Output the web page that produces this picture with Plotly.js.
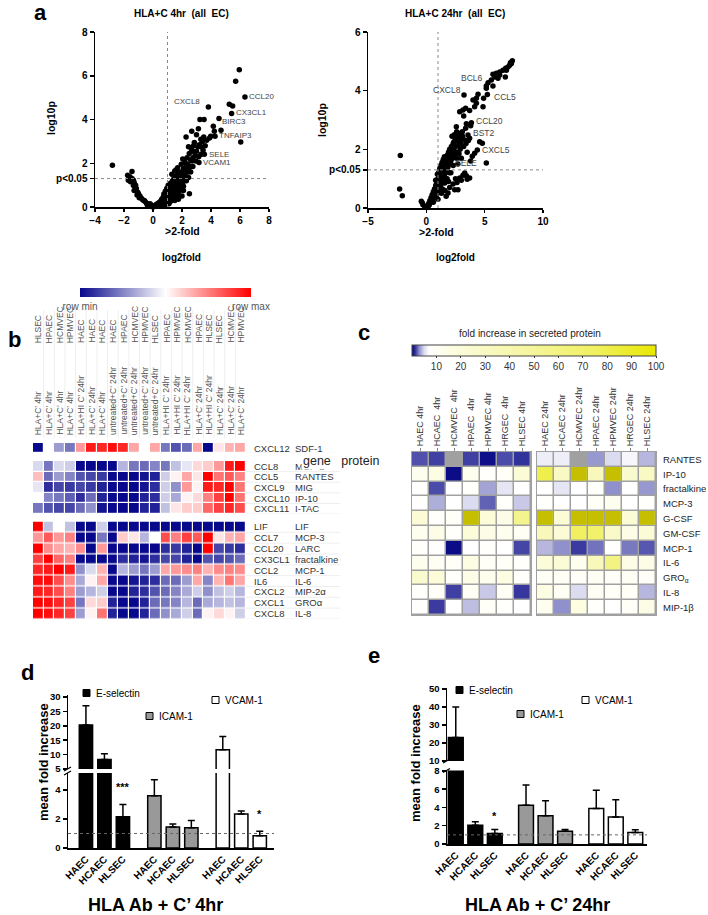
<!DOCTYPE html>
<html><head><meta charset="utf-8">
<script src="https://cdn.plot.ly/plotly-3.0.1.min.js"></script>
<style>html,body{margin:0;padding:0;background:#fff;}#chart{width:708px;height:915px;}</style>
</head><body><div id="chart"></div>
<script>
// ================= DATA =================
// Panel a: volcano plots [log2fold, log10p]
const volcano4h = [
 [5.95,6.28],[5.70,5.75],[6.34,5.03],[5.26,4.70],[5.49,4.62],[5.42,4.27],[3.82,4.57],[4.55,4.05],[3.24,4.0],[3.52,4.0],
 [4.16,3.69],[4.69,3.51],[4.23,3.46],[3.98,3.23],[4.28,3.23],[6.05,2.97],[3.13,3.58],[2.67,3.46],[2.28,3.2],[3.0,3.3],
 [3.3,3.1],[3.4,3.0],[3.5,3.2],[3.3,2.75],[3.1,2.75],[2.8,2.8],[2.75,2.55],[2.9,2.35],[2.75,2.25],[3.3,2.4],
 [3.54,2.41],[3.17,2.03],[2.6,2.15],[2.4,1.95],[2.1,1.75],[1.95,1.95],[2.5,1.8],[2.3,1.6],[2.2,1.45],[2.05,1.3],
 [2.4,1.6],[2.55,1.85],[2.7,2.1],[2.35,2.25],[2.5,2.45],[2.65,2.65],[2.45,2.75],[2.85,2.95],[3.0,2.55],[3.2,2.85],
 [3.45,2.6],[3.6,2.8],[3.7,3.05],[3.9,3.15],[3.15,2.3],[2.95,2.1],[2.75,1.85],[2.6,1.6],[2.2,2.05],[2.05,2.2],
 [2.51,0.61],[2.1,0.95],[2.3,1.2],[2.45,1.35],
 [0.05,0.02],[0.1,0.05],[0.15,0.03],[0.2,0.1],[0.25,0.06],[0.3,0.15],[0.35,0.1],[0.4,0.2],[0.45,0.12],[0.5,0.25],
 [0.55,0.18],[0.6,0.35],[0.62,0.22],[0.68,0.3],[0.7,0.45],[0.75,0.38],[0.8,0.55],[0.82,0.28],[0.88,0.48],[0.9,0.65],
 [0.95,0.4],[1.0,0.8],[1.02,0.55],[1.05,0.3],[1.1,0.7],[1.12,0.95],[1.15,0.45],[1.2,0.85],[1.22,1.1],[1.25,0.6],
 [1.3,0.95],[1.32,0.35],[1.35,1.2],[1.38,0.75],[1.4,1.05],[1.42,0.5],[1.45,1.3],[1.48,0.9],[1.5,1.15],[1.52,0.65],
 [1.55,1.4],[1.58,1.0],[1.6,0.4],[1.62,1.25],[1.65,0.8],[1.68,1.5],[1.7,1.1],[1.72,0.6],[1.75,1.35],[1.78,0.95],
 [1.8,1.55],[1.82,1.2],[1.85,0.75],[1.88,1.4],[1.9,1.0],[1.92,1.6],[1.95,1.25],[1.98,0.85],[2.0,1.45],[2.05,1.1],
 [2.1,1.6],[1.3,1.5],[1.5,1.65],[1.7,1.8],[1.6,1.7],[2.2,1.75],[2.3,1.95],[2.15,1.35],[1.05,1.0],[0.95,0.85],
 [0.85,0.72],[0.75,0.6],[1.2,0.25],[1.5,0.3],[1.75,0.35],[2.0,0.5],[1.85,0.5],[2.1,0.75],[1.1,0.15],[0.9,0.12],[0.7,0.08],
 [-2.80,1.91],[-1.75,1.45],[-1.65,1.3],[-1.6,1.38],[-1.45,1.62],[-1.45,1.3],[-1.35,1.22],[-1.3,1.12],[-1.55,1.15],[-1.7,1.22],
 [-1.2,1.0],[-1.35,0.98],[-1.15,0.85],[-1.3,0.75],[-1.0,0.6],[-0.9,0.5],[-0.8,0.4],[-0.7,0.32],[-0.55,0.25],[-0.45,0.18],
 [-0.35,0.12],[-0.25,0.08],[-0.15,0.05],[-0.05,0.02],[-0.6,0.3],[-1.05,0.68],[-1.1,0.55],[-0.95,0.42],[-0.4,0.1],[-0.2,0.15],
 [-0.1,0.08],[0.0,0.0]
];
const volcano24h = [
 [7.37,5.02],[7.29,4.93],[7.14,4.87],[7.0,4.81],[6.8,4.76],[6.57,4.70],[6.29,4.64],[6.0,4.59],[5.71,4.56],[5.86,4.47],
 [6.14,4.42],[5.57,4.36],[5.29,4.27],[5.14,4.16],[5.71,4.16],[6.77,4.47],[6.29,4.53],[6.86,4.70],[5.14,4.08],[7.2,4.95],
 [5.23,3.87],[4.91,3.74],[4.43,3.88],[4.29,3.74],[4.0,3.68],[4.14,3.45],[4.86,3.45],[4.29,3.57],[3.23,3.85],
 [3.37,3.40],[3.14,3.34],[3.71,3.32],[2.86,3.28],[3.2,3.14],[3.86,2.91],[3.8,2.8],[3.43,2.87],[3.37,2.72],[2.57,2.77],
 [3.09,2.6],[3.57,2.49],[3.0,2.38],[2.71,2.41],[2.37,2.26],[2.86,2.32],[3.29,2.32],[3.71,2.38],[4.57,2.26],[4.8,2.21],
 [4.37,1.98],[4.14,1.87],[3.94,1.76],[5.14,1.53],
 [2.4,2.5],[2.6,2.6],[2.7,2.45],[2.9,2.55],[3.1,2.45],[3.4,2.2],[3.6,2.3],[3.2,2.1],[2.95,2.2],[3.5,1.9],[3.8,1.6],
 [3.29,1.19],[3.43,1.10],[3.14,1.12],[3.71,1.02],[2.86,1.02],[2.63,0.87],[2.29,0.82],[2.43,0.62],[2.71,0.62],[1.86,0.51],
 [3.0,0.95],[3.5,0.98],[2.5,1.0],
 [0.05,0.02],[0.1,0.08],[0.15,0.04],[0.2,0.15],[0.25,0.1],[0.3,0.25],[0.35,0.18],[0.4,0.35],[0.45,0.28],[0.5,0.45],
 [0.55,0.35],[0.6,0.55],[0.65,0.42],[0.7,0.65],[0.72,0.5],[0.75,0.35],[0.8,0.75],[0.85,0.6],[0.88,0.45],[0.9,0.88],
 [0.95,0.7],[1.0,1.0],[1.02,0.8],[1.05,0.55],[1.1,1.1],[1.12,0.9],[1.15,0.7],[1.2,1.2],[1.22,1.0],[1.25,0.8],
 [1.3,1.3],[1.32,1.1],[1.35,0.9],[1.38,0.65],[1.4,1.4],[1.42,1.2],[1.45,1.0],[1.5,1.5],[1.52,1.3],[1.55,1.1],
 [1.58,0.85],[1.6,1.6],[1.62,1.4],[1.65,1.2],[1.7,1.7],[1.72,1.5],[1.75,1.3],[1.78,1.0],[1.8,1.8],[1.82,1.6],
 [1.85,1.4],[1.9,1.9],[1.92,1.7],[1.95,1.5],[1.98,1.2],[2.0,2.0],[2.05,1.8],[2.1,1.6],[2.15,2.1],[2.2,1.9],
 [2.25,1.7],[2.3,2.2],[2.35,2.0],[2.4,1.8],[2.5,2.1],[2.55,1.9],[2.6,1.7],[2.2,2.45],[2.45,2.4],[1.55,1.75],
 [1.35,1.55],[1.15,1.35],[0.95,1.15],[0.8,0.95],[1.6,0.6],[1.3,0.5],[1.0,0.3],[0.6,0.2],[1.7,0.4],[1.9,0.9],
 [2.0,0.7],[2.1,1.2],[2.3,1.45],[2.7,1.5],[2.8,1.85],[2.9,2.0],[3.0,1.7],[2.65,2.3],[2.75,2.15],[1.45,1.65],
 [1.25,1.45],[1.05,1.2],[0.85,0.8],
 [-0.43,0.23],[-0.29,0.11],[-0.14,0.06],[-0.35,0.18],[-2.23,1.79],[-2.29,0.65],[-2.06,0.42]
];
const genes4h = ['CCL20','CX3CL1','BIRC3','TNFAIP3','SELE','VCAM1','CXCL8'];
const genes4hAt = [[6.45,5.03],[5.6,4.3],[4.65,3.92],[4.4,3.25],[3.7,2.42],[3.3,2.03],[3.4,4.8]];
const genes24h = ['BCL6','CXCL8','CCL5','CCL20','BST2','CXCL5','SELE'];
const genes24hAt = [[5.0,4.42],[3.1,4.02],[5.6,3.8],[4.05,2.98],[3.8,2.55],[4.6,1.98],[4.5,1.55]];

// Panel b: row-normalised heatmap
const bCells = ['HLSEC','HPAEC','HCMVEC','HPMVEC','HAEC','HAEC','HAEC','HAEC','HPAEC','HCMVEC','HPMVEC','HLSEC','HPAEC','HPMVEC','HCMVEC','HPAEC','HLSEC','HLSEC','HCMVEC','HPMVEC'];
const bConds = ["HLA+C’ 4hr","HLA+C’ 4hr","HLA+C’ 4hr","HLA+C’ 4hr","HLA+HI C’ 24hr","HLA+C’ 24hr","HLA+C’ 4hr","untreated+C’ 24hr","untreated+C’ 24hr","untreated+C’ 24hr","untreated+C’ 24hr","untreated+C’ 24hr","HLA+HI C’ 24hr","HLA+HI C’ 24hr","HLA+HI C’ 24hr","HLA+C’ 24hr","HLA+HI C’ 24hr","HLA+C’ 24hr","HLA+C’ 24hr","HLA+C’ 24hr"];
const bGenes1 = ['CXCL12'];
const bProteins1 = ['SDF-1'];
const bValues1 = [
 [-1,0,-0.4,-0.55,0.4,0.9,0.85,0.95,0.85,0.35,0,0.35,-0.55,-0.7,-0.6,0.35,-1,0.1,0.3,0.35]
];
const bGenes2 = ['CCL8','CCL5','CXCL9','CXCL10','CXCL11'];
const bProteins2 = ['MCP-2','RANTES','MIG','IP-10','I-TAC'];
const bValues2 = [
 [-0.15,-0.55,-0.15,-0.2,-1,-1,-1,-1,-0.3,-0.55,-0.6,-0.5,-0.55,-0.25,-0.1,0.15,0.2,0.4,0.9,1.0],
 [0.25,-0.6,-0.4,-0.5,-0.7,-0.75,-0.8,-1,-1,-1,-0.95,-0.9,-0.2,0.05,0.35,0.1,1.0,0.55,0.65,0.5],
 [-0.1,-0.85,-0.75,-0.8,-0.75,-0.8,-0.9,-1,-1,-1,-0.95,-0.85,-0.2,-0.45,0.4,0.05,0.9,0.85,1.0,0.55],
 [0,-0.5,-0.55,-0.65,-0.85,-0.6,-0.9,-1,-1,-1,-0.9,-0.85,-0.2,-0.35,0.05,0.15,0.5,0.75,1.0,0.55],
 [-0.55,-0.7,-0.75,-0.75,-0.6,-0.45,-0.95,-1,-1,-1,-0.9,-0.9,-0.25,0.1,0.2,0.2,0.6,0.75,0.85,0.7]
];
const bGenes3 = ['LIF','CCL7','CCL20','CX3CL1','CCL2','IL6','CXCL2','CXCL1','CXCL8'];
const bProteins3 = ['LIF','MCP-3','LARC','fractalkine','MCP-1','IL-6','MIP-2α','GROα','IL-8'];
const bValues3 = [
 [1.0,-0.25,0,-0.25,-1,-1,-0.2,-1,-1,-1,-1,-1,-1,-1,-1,-1,-1,-1,-1,-1],
 [0.4,0.65,0.4,0.5,-1,-1,-0.55,-1,0.2,0.1,-0.3,0,0.7,0.5,0.75,0.65,1.0,0.1,0.3,0.35],
 [1.0,0.45,0.35,0.3,0.45,-1,0.4,-1,-1,-1,-1,-1,-0.85,-0.8,-0.9,-1,1.0,-0.75,-0.8,-0.85],
 [0.75,1.0,0.6,0.5,-1,-1,-1,-1,-0.85,-0.9,-0.95,-0.85,-0.75,-0.75,-0.9,-1,-0.7,-0.75,-0.7,-0.6],
 [0.85,0.9,1.0,0.9,-0.45,-0.15,0.3,-1,-0.3,-0.4,-0.55,-0.4,0.35,0.4,0.45,0.5,0.3,0.45,0.5,0.45],
 [0.95,0.95,0.7,0.45,-0.35,0.05,0.35,-1,-1,-0.95,-0.9,-0.85,-0.6,-0.6,-0.4,0.35,-0.5,0.3,0.55,0.35],
 [0.9,0.85,0.7,0.5,-0.4,-0.3,-0.2,-1,-1,-0.9,-0.85,-0.7,-0.6,-0.5,-0.35,-0.2,-0.45,-0.25,-0.2,-0.3],
 [1.0,0.95,0.85,0.75,-0.55,0.15,0.2,-0.9,-1,-1,-0.9,-0.6,-0.55,-0.5,-0.3,-0.6,-0.35,-0.3,-0.25,-0.3],
 [1.0,0.95,0.85,0.75,-0.4,0.05,0.55,-0.9,-1,-1,-0.9,-0.6,-0.45,-0.35,-0.2,-0.6,0.05,0.15,0.05,-0.2]
];

// Panel c: fold increase in secreted protein (null = not measured)
const cProteins = ['RANTES','IP-10','fractalkine','MCP-3','G-CSF','GM-CSF','MCP-1','IL-6','GRO<sub>α</sub>','IL-8','MIP-1β'];
const cCols4h = ['HAEC 4hr','HCAEC  4hr','HCMVEC  4hr','HPAEC  4hr','HPMVEC 4hr','HRGEC  4hr','HLSEC 4hr'];
const cCols24h = ['HAEC 24hr','HCAEC 24hr','HCMVEC 24hr','HPAEC 24hr','HPMVEC 24hr','HRGEC 24hr','HLSEC 24hr'];
const c4h = [
 [1.9,1.6,null,1.6,0.4,1.8,1.3],
 [12,15,0.3,12,8,9,22],
 [7,1.8,7,8,3.5,5.5,7],
 [7,3.8,7,5,2.2,8,4.5],
 [22,8,9,120,20,14,55],
 [12,14,8,20,14,12,10],
 [8,7,0.3,7,8,7,1.7],
 [12,10,9,15,9,9,8],
 [25,20,8,14,12,16,8],
 [8,9,1.6,10,4.5,10,1.4],
 [7,1.5,7,4.2,9,8,7]
];
const c24h = [
 [6,6,null,3.2,5,6.5,4],
 [80,30,120,35,120,25,30],
 [7,5.5,7,8,3,7,3.2],
 [8,7,7,9,12,7,8],
 [120,22,120,120,120,22,120],
 [35,22,75,70,28,14,22],
 [4,3,1.5,2.5,7,2.6,2.0],
 [20,22,12,35,60,14,14],
 [10,10,9,10,9,10,9],
 [15,10,5,10,9,9,4],
 [12,3,16,8,7,9,14]
];
const cTicks = [10,20,30,40,50,60,70,80,90,100];

// Panels d, e: mean fold increase (+ SEM)
const markers = ['E-selectin','ICAM-1','VCAM-1'];
const cellsDE = ['HAEC','HCAEC','HLSEC'];
const d4hMean = [[20.3,8.3,2.15],[3.6,1.45,1.4],[11.7,2.35,0.85]];
const d4hSem  = [[6.7,2.0,0.85],[1.1,0.2,0.5],[4.6,0.2,0.3]];
const e24hMean = [[23,2.05,1.15],[4.25,3.1,1.4],[3.9,2.95,1.25]];
const e24hSem  = [[17,0.4,0.45],[2.2,1.65,0.2],[2.0,1.9,0.3]];
const d4hStars = [['','','***'],['','',''],['','','*']];
const e24hStars = [['','','*'],['','',''],['','','']];

// ================= LAYOUT HELPERS =================
const W=708,H=915;
const fx=p=>p/W, fy=p=>1-p/H;
const dX=(a,b)=>[a/W,b/W], dY=(t,b)=>[1-b/H,1-t/H];
const FONT='Liberation Sans, Arial, Helvetica, sans-serif';
const annotations=[], shapes=[], traces=[];
function txt(text,px,py,o){o=o||{};annotations.push(Object.assign({text:text,xref:'paper',yref:'paper',x:fx(px),y:fy(py),showarrow:false,xanchor:'center',yanchor:'middle',font:{family:FONT,size:10,color:'#000'}},o));}
const layout={width:W,height:H,margin:{l:0,r:0,t:0,b:0},paper_bgcolor:'#fff',plot_bgcolor:'rgba(0,0,0,0)',showlegend:false,barmode:'overlay',font:{family:FONT,color:'#000'}};

const axBase={showline:true,linecolor:'#000',linewidth:1.5,ticks:'outside',ticklen:4,tickwidth:1.5,tickcolor:'#000',showgrid:false,zeroline:false,tickfont:{family:FONT,size:10,weight:'bold',color:'#000'}};

// ---------- Panel a ----------
traces.push({type:'scatter',mode:'markers',x:volcano4h.map(p=>p[0]),y:volcano4h.map(p=>p[1]),xaxis:'x',yaxis:'y',marker:{size:5.5,color:'#000'},cliponaxis:false,hoverinfo:'skip'});
traces.push({type:'scatter',mode:'markers',x:volcano24h.map(p=>p[0]),y:volcano24h.map(p=>p[1]),xaxis:'x2',yaxis:'y2',marker:{size:5.5,color:'#000'},cliponaxis:false,hoverinfo:'skip'});
layout.xaxis=Object.assign({},axBase,{domain:dX(95,269),range:[-4,8],tickvals:[-4,-2,0,2,4,6,8],anchor:'y',ticklen:3});
layout.yaxis=Object.assign({},axBase,{domain:dY(32,207),range:[0,8],tickvals:[0,1.3,2,4,6,8],ticktext:['0','p<0.05','2','4','6','8'],anchor:'x'});
layout.xaxis2=Object.assign({},axBase,{domain:dX(368,543),range:[-5,10],tickvals:[-5,0,5,10],anchor:'y2',ticklen:3});
layout.yaxis2=Object.assign({},axBase,{domain:dY(32,208),range:[0,6],tickvals:[0,1.3,2,4,6],ticktext:['0','p<0.05','2','4','6'],anchor:'x2'});
[['x','y',8,-4,8],['x2','y2',6,-5,10]].forEach(a=>{
  shapes.push({type:'line',xref:a[0],yref:a[1],x0:1,x1:1,y0:0,y1:a[2],line:{color:'#888',width:1,dash:'dot'}});
  shapes.push({type:'line',xref:a[0],yref:a[1],x0:a[3],x1:a[4],y0:1.3,y1:1.3,line:{color:'#888',width:1,dash:'dot'}});
});
genes4h.forEach((g,i)=>annotations.push({text:g,xref:'x',yref:'y',x:genes4hAt[i][0],y:genes4hAt[i][1],showarrow:false,xanchor:i===6?'right':'left',yanchor:'middle',font:{family:FONT,size:8,color:'#444'}}));
genes24h.forEach((g,i)=>annotations.push({text:g,xref:'x2',yref:'y2',x:genes24hAt[i][0],y:genes24hAt[i][1],showarrow:false,xanchor:(i===0||i===1||i===6)?'right':'left',yanchor:'middle',font:{family:FONT,size:8.5,color:'#444'}}));
txt('a',40,13,{font:{family:FONT,size:22,weight:'bold'}});
txt('HLA+C 4hr  (all  EC)',181,14,{font:{family:FONT,size:10,weight:'bold'}});
txt('HLA+C 24hr  (all  EC)',455,14,{font:{family:FONT,size:10,weight:'bold'}});
txt('&gt;2-fold',182,231,{font:{family:FONT,size:10.5,weight:'bold'}});
txt('&gt;2-fold',437,232,{font:{family:FONT,size:10.5,weight:'bold'}});
txt('log2fold',181,257,{font:{family:FONT,size:10,weight:'bold'}});
txt('log2fold',456,257,{font:{family:FONT,size:10,weight:'bold'}});
txt('log10p',51,118,{textangle:-90,font:{family:FONT,size:10.5,weight:'bold'}});
txt('log10p',322,120,{textangle:-90,font:{family:FONT,size:10.5,weight:'bold'}});

// ---------- Panel b ----------
const bScale=[[0,'#08088c'],[0.5,'#ffffff'],[1,'#ff0000']];
layout.coloraxis={colorscale:bScale,cmin:-1,cmax:1,colorbar:{orientation:'h',x:fx(165.5),xanchor:'center',y:fy(288),yanchor:'top',len:171,lenmode:'pixels',thickness:9,thicknessmode:'pixels',tickvals:[-1,1],ticktext:['row min','row max'],ticks:'',outlinewidth:0,tickfont:{family:FONT,size:10,color:'#555'},xpad:0,ypad:0}};
const bGroups=[[bValues1,bGenes1,bProteins1,443,453],[bValues2,bGenes2,bProteins2,461,514],[bValues3,bGenes3,bProteins3,521.5,619]];
bGroups.forEach((g,k)=>{
  const xa='x'+(3+k), ya='y'+(3+k);
  traces.push({type:'heatmap',z:g[0],x:bCells.map((c,i)=>i),y:g[1].map((r,i)=>i),xaxis:xa,yaxis:ya,coloraxis:'coloraxis',xgap:1.2,ygap:1.2,hoverinfo:'skip'});
  layout['xaxis'+(3+k)]={domain:dX(33,246),range:[-0.5,bCells.length-0.5],visible:false,anchor:ya};
  layout['yaxis'+(3+k)]={domain:dY(g[3],g[4]),range:[g[1].length-0.5,-0.5],visible:false,anchor:xa};
  g[1].forEach((r,i)=>{
    annotations.push({text:r,xref:'paper',yref:ya,x:fx(252),y:i,xanchor:'left',yanchor:'middle',showarrow:false,font:{family:FONT,size:9.5,color:'#333'}});
    annotations.push({text:g[2][i],xref:'paper',yref:ya,x:fx(293),y:i,xanchor:'left',yanchor:'middle',showarrow:false,font:{family:FONT,size:9.5,color:'#333'}});
    shapes.push({type:'line',xref:'paper',yref:ya,x0:fx(246),x1:fx(340),y0:i+0.5,y1:i+0.5,line:{color:'#eee',width:1}});
  });
});
bCells.forEach((c,i)=>{
  annotations.push({text:bConds[i],xref:'x3',yref:'paper',x:i,y:fy(437),xanchor:'center',yanchor:'bottom',textangle:-90,showarrow:false,font:{family:FONT,size:8.5,color:'#555'}});
  annotations.push({text:c,xref:'x3',yref:'paper',x:i,y:fy(345),xanchor:'center',yanchor:'bottom',textangle:-90,showarrow:false,font:{family:FONT,size:8.5,color:'#555'}});
  if(i>0) shapes.push({type:'line',xref:'x3',yref:'paper',x0:i-0.5,x1:i-0.5,y0:fy(438),y1:fy(310),line:{color:'#eee',width:1}});
});
annotations.push({text:'gene   protein',xref:'paper',yref:'paper',x:fx(301),y:fy(461),xanchor:'left',yanchor:'middle',showarrow:false,bgcolor:'#fff',font:{family:FONT,size:12.5,color:'#222'}});
txt('b',14,340,{font:{family:FONT,size:22,weight:'bold'}});

// ---------- Panel c ----------
const cScale=[[0,'#000080'],[0.015,'#3a3aa0'],[0.03,'#9090cc'],[0.05,'#dcdcf0'],[0.07,'#ffffff'],[0.15,'#fdfde4'],[0.3,'#f9f9c4'],[0.5,'#f5f59a'],[0.75,'#f0f060'],[1,'#e8e800']];
layout.coloraxis2={colorscale:cScale,cmin:0,cmax:100,colorbar:{orientation:'h',x:fx(534),xanchor:'center',y:fy(345),yanchor:'top',len:244,lenmode:'pixels',thickness:11,thicknessmode:'pixels',tickvals:cTicks,ticks:'outside',ticklen:2,tickcolor:'#333',outlinecolor:'#444',outlinewidth:1,tickfont:{family:FONT,size:10,color:'#333'},xpad:0,ypad:0}};
const cBlocks=[[c4h,cCols4h,412,531,6],[c24h,cCols24h,537,656,7]];
cBlocks.forEach(b=>{
  const xa='x'+b[4], ya='y'+b[4];
  shapes.push({type:'rect',xref:'paper',yref:'paper',x0:fx(b[2]-1),x1:fx(b[3]+1),y0:fy(616),y1:fy(451),fillcolor:'#a0a0a0',line:{width:0},layer:'below'});
  traces.push({type:'heatmap',z:b[0],x:b[1].map((c,i)=>i),y:cProteins.map((r,i)=>i),xaxis:xa,yaxis:ya,coloraxis:'coloraxis2',xgap:1.5,ygap:1.5,hoverinfo:'skip'});
  traces.push({type:'heatmap',z:b[0].map(r=>r.map(v=>(v!==null&&v>100)?1:null)),x:b[1].map((c,i)=>i),y:cProteins.map((r,i)=>i),xaxis:xa,yaxis:ya,colorscale:[[0,'#c6bf00'],[1,'#c6bf00']],showscale:false,xgap:1.5,ygap:1.5,hoverinfo:'skip'});
  layout['xaxis'+b[4]]={domain:dX(b[2],b[3]),range:[-0.5,6.5],side:'top',anchor:ya,tickvals:b[1].map((c,i)=>i),ticktext:b[1],tickangle:-90,ticks:'outside',ticklen:3,tickcolor:'#888',showline:false,showgrid:false,zeroline:false,tickfont:{family:FONT,size:9,color:'#333'}};
  layout['yaxis'+b[4]]={domain:dY(452,615),range:[10.5,-0.5],anchor:xa,showgrid:false,zeroline:false,showline:false,showticklabels:b[4]===7,side:'right',tickvals:cProteins.map((r,i)=>i),ticktext:cProteins,ticks:'',ticklabelstandoff:6,tickfont:{family:FONT,size:9.5,color:'#222'}};
});
txt('fold increase in secreted protein',530,333,{font:{family:FONT,size:10,color:'#222'}});
txt('c',364,332,{font:{family:FONT,size:22,weight:'bold'}});

// ---------- Panels d, e ----------
function barPanel(mean,sem,stars,cfg){
  const pos=(g,i)=>g*cfg.step+i;
  const xl='x'+cfg.n, yl='y'+cfg.n, xu='x'+(cfg.n+1), yu='y'+(cfg.n+1);
  const fills=['#000','#999','#fff'];
  markers.forEach((m,g)=>{
    [[xl,yl],[xu,yu]].forEach(ax=>{
      traces.push({type:'bar',x:cellsDE.map((c,i)=>pos(g,i)),y:mean[g],width:cfg.bw,xaxis:ax[0],yaxis:ax[1],marker:{color:fills[g],line:{color:'#000',width:1.5}},
        error_y:{type:'data',symmetric:false,array:sem[g],arrayminus:sem[g].map(()=>0),color:'#000',thickness:1.5,width:3.5},hoverinfo:'skip'});
    });
    stars[g].forEach((s,i)=>{ if(s) annotations.push({text:s,xref:xl,yref:yl,x:pos(g,i),y:mean[g][i]+sem[g][i]+cfg.starGap,showarrow:false,xanchor:'center',yanchor:'middle',font:{family:FONT,size:11,weight:'bold'}}); });
  });
  const xr=[cfg.x0,cfg.x1];
  const tv=[], tt=[];
  markers.forEach((m,g)=>cellsDE.forEach((c,i)=>{tv.push(pos(g,i));tt.push(c);}));
  const tf={family:FONT,size:9.5,weight:'bold',color:'#000'};
  layout['xaxis'+cfg.n]=Object.assign({},axBase,{domain:dX(cfg.px0,cfg.px1),range:xr,anchor:yl,tickvals:tv,ticktext:tt,tickangle:-45,ticks:'',tickfont:{family:FONT,size:10,weight:'bold',color:'#000'}});
  layout['xaxis'+(cfg.n+1)]={domain:dX(cfg.px0,cfg.px1),range:xr,anchor:yu,visible:false};
  layout['yaxis'+cfg.n]=Object.assign({},axBase,{domain:dY(cfg.lowTop,cfg.lowBot),range:cfg.lowRange,tickvals:cfg.lowTicks,anchor:xl,tickfont:tf});
  layout['yaxis'+(cfg.n+1)]=Object.assign({},axBase,{domain:dY(cfg.upTop,cfg.upBot),range:cfg.upRange,tickvals:cfg.upTicks,anchor:xu,tickfont:tf});
  shapes.push({type:'line',xref:xl+' domain',yref:yl,x0:0,x1:1,y0:1,y1:1,line:{color:'#666',width:1,dash:'dot'}});
  // axis break marks
  shapes.push({type:'line',xref:'paper',yref:'paper',x0:fx(cfg.px0-4),x1:fx(cfg.px0+3),y0:fy(cfg.upBot+2),y1:fy(cfg.upBot-2),line:{color:'#000',width:1.2}});
  shapes.push({type:'line',xref:'paper',yref:'paper',x0:fx(cfg.px0-4),x1:fx(cfg.px0+3),y0:fy(cfg.lowTop+2),y1:fy(cfg.lowTop-2),line:{color:'#000',width:1.2}});
  // legend keys
  markers.forEach((m,g)=>{
    const L=cfg.legend[g];
    shapes.push({type:'rect',xref:'paper',yref:'paper',x0:fx(L[0]),x1:fx(L[0]+7),y0:fy(L[1]+3.5),y1:fy(L[1]-3.5),fillcolor:fills[g],line:{color:'#000',width:1}});
    txt(m,L[0]+11,L[1],{xanchor:'left',font:{family:FONT,size:10,color:'#000'}});
  });
  txt('mean fold increase',cfg.titleX,cfg.titleY,{textangle:-90,font:{family:FONT,size:13,weight:'bold'}});
  txt(cfg.caption,cfg.capX,905,{font:{family:FONT,size:18,weight:'bold'}});
  txt(cfg.letter,cfg.letX,cfg.letY,{font:{family:FONT,size:22,weight:'bold'}});
}
barPanel(d4hMean,d4hSem,d4hStars,{n:8,step:3.7,bw:0.72,x0:-0.97,x1:10.17,px0:68,px1:274,lowTop:773,lowBot:848,lowRange:[0,5.17],lowTicks:[0,2,4],upTop:695,upBot:769,upRange:[5,30.7],upTicks:[5,10,15,20,25,30],starGap:1.2,
  legend:[[83,693],[146,716],[212,700]],titleX:43,titleY:762,caption:'HLA Ab + C’ 4hr',capX:155,letter:'d',letX:27,letY:672});
barPanel(e24hMean,e24hSem,e24hStars,{n:10,step:3.6,bw:0.76,x0:-0.45,x1:9.8,px0:447,px1:647,lowTop:770.5,lowBot:844,lowRange:[0,8.05],lowTicks:[0,2,4,6,8],upTop:688,upBot:761,upRange:[9.9,50.5],upTicks:[10,20,30,40,50],starGap:1.5,
  legend:[[456,690],[517,714],[582,700]],titleX:415,titleY:763,caption:'HLA Ab + C’ 24hr',capX:537,letter:'e',letX:374,letY:655});

layout.annotations=annotations;
layout.shapes=shapes;
Plotly.newPlot('chart',traces,layout,{staticPlot:true,displayModeBar:false});
</script></body></html>
